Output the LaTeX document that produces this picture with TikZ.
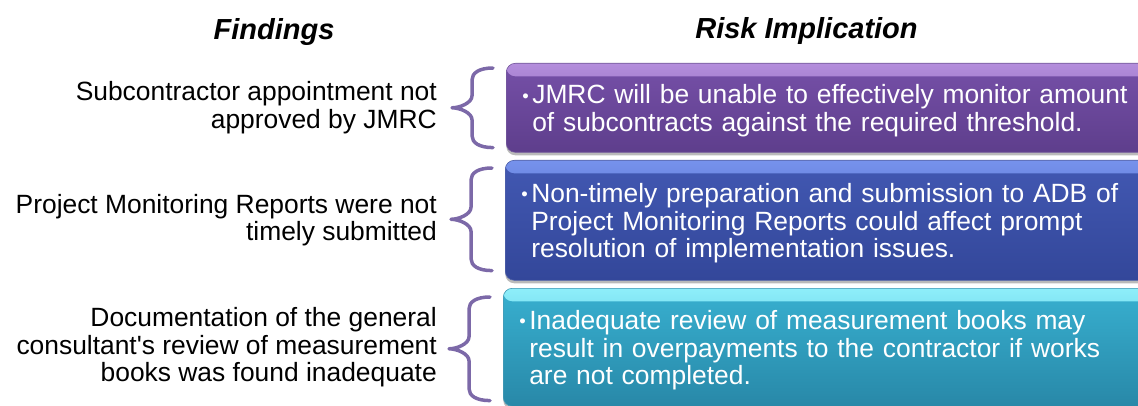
\documentclass[tikz,border=0pt]{standalone}
\usepackage{fontspec}
\setmainfont{Liberation Sans}
\usetikzlibrary{positioning, calc, shadows}
\definecolor{braceLine}{HTML}{7C69A8}
\definecolor{purpleHi}{HTML}{B48EDC}
\definecolor{purpleTop}{HTML}{7650A8}
\definecolor{purpleLow}{HTML}{5E3E8C}
\definecolor{blueHi}{HTML}{7692EC}
\definecolor{blueTop}{HTML}{4258B2}
\definecolor{blueLow}{HTML}{33479A}
\definecolor{cyanHi}{HTML}{8EEEFA}
\definecolor{cyanTop}{HTML}{38B0D0}
\definecolor{cyanLow}{HTML}{2888A8}
\newcommand{\riskfont}{\fontsize{26.4}{27.6}\selectfont}
\newcommand{\headfont}{\fontsize{29}{33}\selectfont\bfseries\itshape}
\newcommand{\riskbullet}{\rule{0pt}{25pt}\makebox[10pt][l]{\raisebox{1.5pt}{\scalebox{0.7}{\textbullet}}}}
\newcommand{\riskitem}[1]{\riskbullet\parbox[t]{620pt}{#1}}

\begin{document}
\begin{tikzpicture}[x=1pt, y=1pt,
      riskbox/.style n args={3}{rectangle, rounded corners=9pt, anchor=north west,
                     text width=640pt, align=left, inner xsep=16pt, inner ysep=0pt,
                     text=white, font=\riskfont, top color=#2, bottom color=#3,
                     draw=#3!85!white, line width=0.6pt,
                     drop shadow={shadow xshift=0pt, shadow yshift=-3pt, fill=black!45, opacity=0.6},
                     path picture={\shade[top color=#1, bottom color=#2]
                       (path picture bounding box.north west) rectangle
                       ([yshift=-13pt]path picture bounding box.north east);}},
      finding/.style={align=right, anchor=east, inner sep=0pt, font=\riskfont},
      head/.style={anchor=base, inner sep=0pt, font=\headfont},
      curly/.style={draw=braceLine, line width=3.5pt, line cap=round, line join=round,
                     to path={let \p1=(\tikztostart), \p2=(\tikztotarget), \n1={(\y1+\y2)/2} in
                       .. controls (\x1-14pt, \y1) and (\x1-21pt, \y1-5pt) .. (\x1-21pt, \y1-12pt)
                       -- (\x1-21pt, \n1+12pt)
                       .. controls (\x1-21pt, \n1+5pt) and (\x1-33pt, \n1) .. (\x1-41pt, \n1)
                       .. controls (\x1-33pt, \n1) and (\x1-21pt, \n1-5pt) .. (\x1-21pt, \n1-12pt)
                       -- (\x1-21pt, \y2+12pt)
                       .. controls (\x1-21pt, \y2+5pt) and (\x1-14pt, \y2) .. (\x2, \y2)}}
    ]
    \useasboundingbox (0,0) rectangle (1138,405);
    \clip (0,0) rectangle (1138,405);

    \node[head] (findhead) at (274,365.5) {Findings};
    \node[head] (riskhead) at (806.5,366) {Risk Implication};

    \node[riskbox={purpleHi}{purpleTop}{purpleLow}, minimum height=89pt] (box1) at (506,342)
      {\riskitem{JMRC will be unable to effectively monitor amount\\
                 of subcontracts against the required threshold.}};
    \node[riskbox={blueHi}{blueTop}{blueLow}, minimum height=120pt] (box2) at (505,245)
      {\riskitem{Non-timely preparation and submission to ADB of\\
                 Project Monitoring Reports could affect prompt\\
                 resolution of implementation issues.}};
    \node[riskbox={cyanHi}{cyanTop}{cyanLow}, minimum height=118pt] (box3) at (503,117)
      {\riskitem{Inadequate review of measurement books may\\
                 result in overpayments to the contractor if works\\
                 are not completed.}};

    \node[finding] (find1) at ([xshift=-69pt]box1.west)
      {Subcontractor appointment not\\approved by JMRC};
    \node[finding] (find2) at ([xshift=-68pt]box2.west)
      {Project Monitoring Reports were not\\timely submitted};
    \node[finding] (find3) at ([xshift=-66pt]box3.west)
      {Documentation of the general\\consultant\textquotesingle s review of measurement\\books was found inadequate};

    \foreach \b/\top/\bot in {box1/5/5, box2/8/10, box3/9/6}
      \draw[curly] ([xshift=-13pt, yshift=-\top pt]\b.north west)
                to ([xshift=-13pt, yshift=\bot pt]\b.south west);
  \end{tikzpicture}
\end{document}
